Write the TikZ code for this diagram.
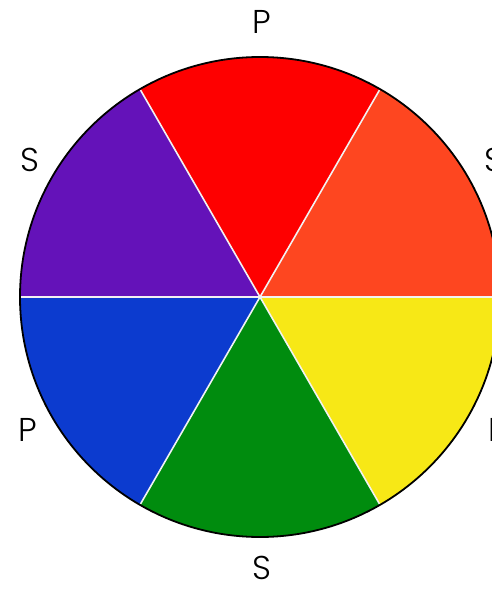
\documentclass[tikz,border=0pt]{standalone}
\usepackage{fontspec}
\setmainfont{Poppins}[UprightFont=* Light]
\definecolor{wheelred}{HTML}{FE0000}
\definecolor{wheelorange}{HTML}{FE4620}
\definecolor{wheelyellow}{HTML}{F7E816}
\definecolor{wheelgreen}{HTML}{008C0E}
\definecolor{wheelblue}{HTML}{0C3BCF}
\definecolor{wheelpurple}{HTML}{6412B9}

\begin{document}
\begin{tikzpicture}[x=1pt, y=1pt, lettertag/.style={font=\fontsize{33}{33}\selectfont, inner sep=0pt}]
	\useasboundingbox (-260,-293) rectangle (232,297);
	% wedges
	\fill[wheelorange] (0,0) -- (0:240) arc[start angle=0, end angle=60, radius=240] -- cycle;
	\fill[wheelred] (0,0) -- (60:240) arc[start angle=60, end angle=120, radius=240] -- cycle;
	\fill[wheelpurple] (0,0) -- (120:240) arc[start angle=120, end angle=180, radius=240] -- cycle;
	\fill[wheelblue] (0,0) -- (180:240) arc[start angle=180, end angle=240, radius=240] -- cycle;
	\fill[wheelgreen] (0,0) -- (240:240) arc[start angle=240, end angle=300, radius=240] -- cycle;
	\fill[wheelyellow] (0,0) -- (300:240) arc[start angle=300, end angle=360, radius=240] -- cycle;
	% white spokes
	\foreach \a in {0,60,...,300}
		\draw[white!90!gray, line width=1.6pt] (0,0) -- (\a:239);
	\draw[line width=1.8pt] (0,0) circle (240);
	% labels
	\node[lettertag] (pTop) at (2,275) {P};
	\node[lettertag] (sLeft) at (-230,137) {S};
	\node[lettertag] (sRight) at (234,137) {S};
	\node[lettertag] (pLeft) at (-232,-133) {P};
	\node[lettertag] (pRight) at (238,-133) {P};
	\node[lettertag] (sBottom) at (2,-271) {S};
\end{tikzpicture}
\end{document}
